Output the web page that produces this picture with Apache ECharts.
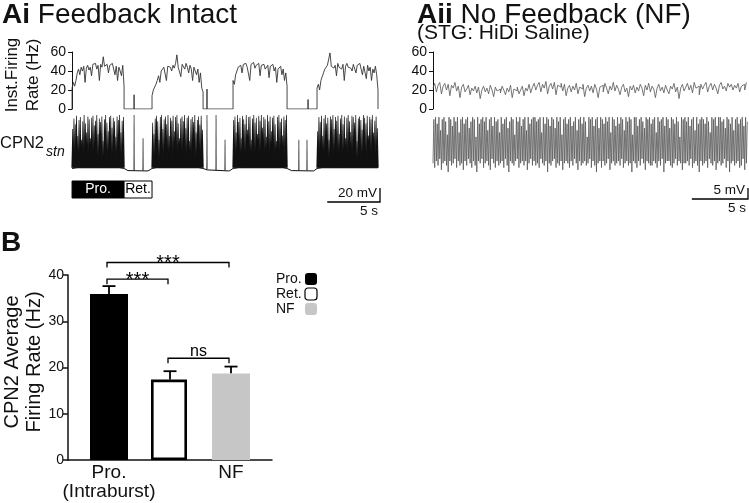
<!DOCTYPE html>
<html><head><meta charset="utf-8">
<script src="https://cdn.jsdelivr.net/npm/echarts@6/dist/echarts.min.js"></script>
<style>html,body{margin:0;padding:0;background:#fff}#c{width:749px;height:503px}</style>
</head><body><div id="c"></div>
<script>
const FONT = '"Liberation Sans", Arial, Helvetica, sans-serif';

// ---------- Ai : feedback intact ----------
const rateTicks = [0, 20, 40, 60];                 // Hz
const burstStartAi = [0, 7.58, 15.26, 23.22];      // s
const burstEndAi = [4.93, 12.42, 20.38, 29.0];     // s
const rateAiB1 = [22,28,24,30,38,42,36,44,40,45,28,43,46,41,44,35,47,45,48,42,46,30,47,44,55,45,43,47,38,46,44,48,42,36,45,30,44,40,35,46,24];
const rateAiB2 = [14,20,18,26,30,35,28,40,38,44,42,30,45,47,44,40,46,43,48,57,44,46,34,47,45,42,48,44,38,46,42,30,44,40,36,42,28,38,22,18];
const rateAiB3 = [30,26,36,40,44,42,46,38,47,45,48,44,46,30,47,45,49,43,46,44,48,35,46,45,47,42,44,46,33,45,43,47,40,44,28,42,40,45,36,42,30,38,24];
const rateAiB4 = [22,26,20,30,34,38,42,40,46,44,59,45,47,43,46,35,48,44,46,42,47,30,45,48,44,46,43,40,47,45,38,46,44,48,42,36,45,43,32,46,40,44,30,42,38,45,36,20];
const rateBlipsAi = [[5.88, 15], [12.79, 21], [22.37, 10]];   // [s, Hz]

// membrane potential (mV)
const burstBaseAi = -60;
const peakAiB1 = [-5,10,2,14,-15,8,12,-20,6,15,3,-10,13,9,-18,11,14,0,7,15,-12,10,5,13,-22,9,15,4,-8,12,14,-3,11,6,-16,13,8,15,-10,7,12];
const peakAiB2 = [4,-12,10,14,6,-20,12,15,-5,9,13,2,15,-15,11,7,14,-8,12,15,3,-18,10,13,6,15,-4,11,14,-22,9,12,5,15,-10,8,13,1,14,-6];
const peakAiB3 = [8,13,-10,15,5,11,-18,14,9,2,15,-6,12,13,-20,10,15,4,11,-12,14,7,15,-3,12,9,-16,15,6,13,-8,11,14,2,-22,12,15,5,10,-14,13,8,15];
const peakAiB4 = [-8,12,5,14,-15,10,15,3,11,-20,13,9,15,-5,12,7,14,-12,10,15,2,13,-18,11,15,6,-9,14,12,4,15,-22,10,13,8,-6,15,11,3,14,-14,12,9,15,-10,7,13,-4];
const spikesAiInter = [[5.88, -64, 15], [6.73, -64, -18], [12.79, -62, 15], [13.65, -64, 15], [14.5, -64, -20], [21.5, -64, -20], [22.27, -64, -20]];
const baselineAi = [[0,-61],[0.5,-60],[4.5,-60],[4.93,-61],[5.3,-64],[7.2,-64.5],[7.58,-61],[8,-60],[12,-60],[12.42,-61],[12.8,-63],[14.9,-64.5],[15.26,-61],[15.8,-60],[20,-60],[20.38,-61],[20.8,-64],[22.9,-64.5],[23.22,-61],[23.7,-60],[29,-60]];
const phaseNames = ['Pro.', 'Ret.'];
const scaleAi = [5, 20];   // s, mV

// ---------- Aii : no feedback ----------
const dtAii = 0.15;  // s
const rateAii = [22,27,18,25,28,16,24,27,20,26,14,25,22,28,19,24,12,23,26,18,21,25,15,22,19,24,17,23,11,20,24,18,22,16,25,20,13,23,19,21,17,24,20,15,22,18,25,12,21,19,23,16,20,24,14,22,19,26,17,23,27,20,25,28,18,26,22,29,16,24,27,21,28,15,25,23,27,19,26,14,22,25,18,24,20,27,16,23,21,26,13,22,25,19,24,17,26,21,12,23,25,18,27,22,16,24,20,28,19,25,21,15,23,26,18,22,13,24,20,25,17,23,19,26,22,14,25,20,27,18,24,21,12,22,26,19,23,17,25,20,16,24,21,27,18,23,11,22,26,19,23,27,20,25,17,28,22,24,15,26,21,25,28,18,24,27,20,26,22,16,25,28,21,24,19,27,23,26,20,25,22,27,18,24,26,20,28];
const peakAii = [-36,-35,-38,-35,-41,-36,-35,-37,-43,-35,-36,-39,-35,-37,-35,-42,-36,-35,-38,-36,-35,-40,-37,-35,-36,-44,-35,-38,-36,-35,-37,-35,-41,-36,-35,-39,-35,-37,-36,-42,-35,-38,-36,-35,-40,-37,-35,-36,-43,-35,-37,-35,-39,-36,-35,-41,-35,-38,-36,-35,-35,-37,-36,-35,-42,-35,-38,-35,-36,-39,-35,-36,-40,-35,-37,-35,-43,-36,-35,-38,-36,-35,-39,-37,-35,-41,-36,-35,-38,-35,-37,-44,-35,-36,-35,-39,-36,-35,-40,-35,-36,-38,-35,-37,-35,-42,-35,-36,-39,-35,-38,-35,-36,-41,-35,-37,-35,-36,-43,-35,-35,-39,-36,-35,-37,-40,-35,-36,-35,-38,-36,-35,-42,-35,-37,-36,-35,-39,-35,-36,-40,-35,-36,-38,-35,-37,-44,-35,-36,-35,-37,-35,-39,-36,-35,-41,-35,-38,-36,-35,-36,-38,-35,-37,-42,-35,-36,-35,-39,-35,-35,-37,-36,-40,-35,-36,-38,-35,-41,-36,-35,-38,-36,-35,-39,-35,-37];
const troughAii = [-56,-58,-55,-57,-54,-59,-56,-55,-57,-60,-55,-57,-56,-54,-58,-55,-57,-56,-59,-55,-57,-54,-56,-58,-55,-57,-60,-55,-56,-54,-58,-56,-55,-57,-59,-54,-56,-58,-55,-57,-56,-55,-58,-54,-57,-60,-55,-56,-57,-55,-54,-58,-56,-55,-57,-55,-59,-56,-54,-57,-55,-57,-56,-58,-54,-56,-57,-55,-60,-56,-57,-55,-54,-58,-56,-57,-55,-59,-56,-55,-56,-58,-55,-57,-54,-56,-59,-55,-57,-56,-55,-57,-56,-54,-58,-55,-57,-60,-56,-55,-58,-55,-57,-56,-54,-59,-56,-55,-57,-56,-55,-57,-54,-58,-56,-55,-57,-56,-60,-55,-56,-58,-55,-57,-54,-56,-59,-55,-56,-57,-57,-55,-56,-58,-55,-57,-54,-60,-56,-55,-55,-57,-58,-56,-54,-57,-55,-56,-59,-56,-56,-55,-57,-54,-58,-56,-55,-57,-60,-55,-57,-56,-55,-58,-54,-56,-57,-55,-59,-56,-55,-57,-56,-54,-58,-55,-60,-56,-55,-57,-56,-55,-58,-57,-54,-59,-56];
const scaleAii = [5, 5];  // s, mV

// ---------- B : average firing rate ----------
const groups = ['Pro.', 'Ret.', 'NF'];
const groupLabels = ['Pro.\n(Intraburst)', 'Ret.', 'NF'];
const meanRate = [35.9, 17.4, 18.7];     // Hz
const semRate = [1.7, 1.8, 1.5];         // Hz
const yTicksB = [0, 10, 20, 30, 40];
const sigPairs = [[0, 2], [0, 1], [1, 2]];
const sigLevels = [42.7, 39.1, 22.0];    // Hz
const sigLabels = ['***', '***', 'ns'];

// ---------- build series data ----------
const burstsRate = [rateAiB1, rateAiB2, rateAiB3, rateAiB4];
const burstsPeak = [peakAiB1, peakAiB2, peakAiB3, peakAiB4];
const ratePtsAi = [];
burstsRate.forEach((vals, k) => {
  const s = burstStartAi[k], e = burstEndAi[k], dt = (e - s) / (vals.length - 1);
  ratePtsAi.push([s, 0]);
  vals.forEach((v, i) => ratePtsAi.push([s + i * dt, v]));
  ratePtsAi.push([e, 0]);
  rateBlipsAi.filter(b => b[0] > e && (k + 1 >= burstStartAi.length || b[0] < burstStartAi[k + 1]))
    .forEach(b => { ratePtsAi.push([b[0], 0], [b[0], b[1]], [b[0], 0]); });
});
const spikePtsAi = [];
burstsPeak.forEach((vals, k) => {
  const s = burstStartAi[k], e = burstEndAi[k], dt = (e - s) / vals.length;
  vals.forEach((p, i) => spikePtsAi.push([s + (i + 0.5) * dt, burstBaseAi, p]));
});
const interSpikes = spikesAiInter.slice();

const ratePtsAii = rateAii.map((v, i) => [i * dtAii, v]);
const voltPtsAii = [];
peakAii.forEach((p, i) => { voltPtsAii.push([i * dtAii, troughAii[i]], [(i + 0.5) * dtAii, p]); });

const phaseData = [[burstStartAi[0], burstEndAi[0]], [burstEndAi[0], burstStartAi[1]]];

// ---------- chart ----------
const chart = echarts.init(document.getElementById('c'), null, {renderer: 'canvas'});
const hidden = {show: false};
const rateY = (gi) => ({
  gridIndex: gi, type: 'value', min: 0, max: 60, interval: 20,
  axisLine: {show: true, lineStyle: {color: '#111', width: 1}},
  axisTick: {show: true, length: 4, lineStyle: {color: '#111'}},
  axisLabel: {fontSize: 14, color: '#111', margin: 5, fontFamily: FONT},
  splitLine: hidden
});
const hidX = (gi, min, max) => ({gridIndex: gi, type: 'value', min, max, show: false});
const hidY = (gi, min, max) => ({gridIndex: gi, type: 'value', min, max, show: false});

const spikeRender = (baseW, tipW, color) => (params, api) => {
  const a = api.coord([api.value(0), api.value(1)]);
  const b = api.coord([api.value(0), api.value(2)]);
  return {type: 'polygon', shape: {points: [[a[0] - baseW / 2, a[1]], [b[0] - tipW / 2, b[1]], [b[0] + tipW / 2, b[1]], [a[0] + baseW / 2, a[1]]]},
    style: {fill: color}};
};

const option = {
  animation: false,
  textStyle: {fontFamily: FONT},
  grid: [
    {left: 71, top: 52, width: 307, height: 57},
    {left: 71, top: 115, width: 307, height: 57},
    {left: 71, top: 181, width: 307, height: 17},
    {left: 432, top: 52, width: 316, height: 57},
    {left: 432, top: 115, width: 316, height: 57},
    {left: 78.5, top: 275, width: 183, height: 185},
    {left: 68, top: 275, width: 204, height: 185}
  ],
  xAxis: [
    hidX(0, -0.1, 29), hidX(1, -0.1, 29), hidX(2, -0.1, 29),
    hidX(3, -0.09, 28.04), hidX(4, -0.09, 28.04),
    {gridIndex: 5, type: 'category', data: groupLabels,
      axisLine: hidden, axisTick: hidden,
      axisLabel: {fontSize: 19, color: '#111', margin: 3, lineHeight: 19, fontFamily: FONT}},
    {gridIndex: 6, type: 'value', min: -0.672, max: 2.672,
      axisLine: {show: true, lineStyle: {color: '#111', width: 1.5}},
      axisTick: hidden, axisLabel: hidden, splitLine: hidden}
  ],
  yAxis: [
    rateY(0), hidY(1, -66, 15), hidY(2, 0, 1), rateY(3), hidY(4, -60, -34),
    {gridIndex: 5, type: 'value', min: 0, max: 40, interval: 10, offset: 10.5,
      axisLine: {show: true, lineStyle: {color: '#111', width: 1.5}},
      axisTick: {show: true, length: 5, lineStyle: {color: '#111', width: 1.5}},
      axisLabel: {fontSize: 14, color: '#111', margin: 4, fontFamily: FONT},
      splitLine: hidden},
    hidY(6, 0, 40)
  ],
  legend: {
    orient: 'vertical', left: 271, top: 267, align: 'right',
    itemWidth: 12, itemHeight: 12, itemGap: 1,
    formatter: (name) => '{a|' + name + '}',
    textStyle: {fontSize: 14, color: '#111', lineHeight: 14, fontFamily: FONT,
      rich: {a: {width: 24, align: 'left', fontSize: 14, lineHeight: 14, fontFamily: FONT, color: '#111'}}},
    data: [{name: 'Pro.'}, {name: 'Ret.', itemStyle: {borderWidth: 1.2}}, {name: 'NF'}],
    selectedMode: false
  },
  series: [
    {type: 'line', xAxisIndex: 0, yAxisIndex: 0, data: ratePtsAi, symbol: 'none',
      lineStyle: {color: '#333', width: 0.9}, silent: true},
    {type: 'line', xAxisIndex: 1, yAxisIndex: 1, data: baselineAi, symbol: 'none',
      lineStyle: {color: '#111', width: 1}, silent: true},
    {type: 'custom', xAxisIndex: 1, yAxisIndex: 1, data: spikePtsAi, silent: true,
      encode: {x: 0, y: [1, 2]}, renderItem: spikeRender(2.6, 0.7, '#111')},
    {type: 'custom', xAxisIndex: 1, yAxisIndex: 1, data: interSpikes, silent: true,
      encode: {x: 0, y: [1, 2]}, renderItem: spikeRender(1.2, 0.8, '#333')},
    {type: 'custom', xAxisIndex: 2, yAxisIndex: 2, data: phaseData, silent: true,
      encode: {x: [0, 1]},
      renderItem: (params, api) => {
        const a = api.coord([api.value(0), 1]);
        const b = api.coord([api.value(1), 0]);
        const dark = params.dataIndex === 0;
        return {type: 'group', children: [
          {type: 'rect', shape: {x: a[0], y: a[1], width: b[0] - a[0], height: b[1] - a[1]},
            style: {fill: dark ? '#000' : '#fff', stroke: '#000', lineWidth: 1}},
          {type: 'text', x: (a[0] + b[0]) / 2, y: (a[1] + b[1]) / 2,
            style: {text: phaseNames[params.dataIndex], fill: dark ? '#fff' : '#000',
              font: '14px ' + FONT, align: 'center', verticalAlign: 'middle'}}
        ]};
      }},
    {type: 'line', xAxisIndex: 3, yAxisIndex: 3, data: ratePtsAii, symbol: 'none', step: 'end',
      lineStyle: {color: '#555', width: 0.8}, silent: true},
    {type: 'line', xAxisIndex: 4, yAxisIndex: 4, data: voltPtsAii, symbol: 'none',
      lineStyle: {color: '#5a5a5a', width: 0.8}, silent: true},
    {name: 'Pro.', type: 'bar', xAxisIndex: 5, yAxisIndex: 5, barWidth: 38, barGap: '-100%',
      data: [meanRate[0], '-', '-'], itemStyle: {color: '#000'}},
    {name: 'Ret.', type: 'bar', xAxisIndex: 5, yAxisIndex: 5, barWidth: 36, barGap: '-100%',
      data: ['-', meanRate[1], '-'], itemStyle: {color: '#fff', borderColor: '#000', borderWidth: 2.6}},
    {name: 'NF', type: 'bar', xAxisIndex: 5, yAxisIndex: 5, barWidth: 38, barGap: '-100%',
      data: ['-', '-', meanRate[2]], itemStyle: {color: '#c6c6c6'}},
    {type: 'custom', xAxisIndex: 5, yAxisIndex: 5, silent: true,
      data: meanRate.map((m, i) => [i, m, m + semRate[i]]),
      encode: {x: 0, y: [1, 2]},
      renderItem: (params, api) => {
        const a = api.coord([api.value(0), api.value(1)]);
        const b = api.coord([api.value(0), api.value(2)]);
        const st = {stroke: '#000', lineWidth: 1.8};
        return {type: 'group', children: [
          {type: 'line', shape: {x1: a[0], y1: a[1], x2: b[0], y2: b[1]}, style: st},
          {type: 'line', shape: {x1: b[0] - 6.5, y1: b[1], x2: b[0] + 6.5, y2: b[1]}, style: st}
        ]};
      }},
    {type: 'custom', xAxisIndex: 6, yAxisIndex: 6, silent: true,
      data: sigPairs.map((p, i) => [p[0], p[1], sigLevels[i]]),
      encode: {x: [0, 1], y: 2},
      renderItem: (params, api) => {
        const a = api.coord([api.value(0), api.value(2)]);
        const b = api.coord([api.value(1), api.value(2)]);
        const lab = sigLabels[params.dataIndex];
        const drop = 5;
        const isNs = lab === 'ns';
        return {type: 'group', children: [
          {type: 'polyline', shape: {points: [[a[0] - 2, a[1] + drop], [a[0] - 2, a[1]], [b[0] - 2, b[1]], [b[0] - 2, b[1] + drop]]},
            style: {stroke: '#000', lineWidth: 1.3, fill: null}},
          {type: 'text', x: (a[0] + b[0]) / 2 - 2, y: a[1] + (isNs ? -7 : 1),
            style: {text: lab, fill: '#000', font: (isNs ? '16px ' : '20px ') + FONT,
              align: 'center', verticalAlign: 'middle'}}
        ]};
      }}
  ]
};
chart.setOption(option);

// ---------- texts & scale bars ----------
function scaleBar(xi, yi, sec, mv, right, bottom, mvText, sText) {
  const w = chart.convertToPixel({xAxisIndex: xi}, sec) - chart.convertToPixel({xAxisIndex: xi}, 0);
  const h = chart.convertToPixel({yAxisIndex: yi}, 0) - chart.convertToPixel({yAxisIndex: yi}, mv);
  return [
    {type: 'polyline', shape: {points: [[right - w, bottom], [right, bottom], [right, bottom - h]]},
      style: {stroke: '#000', lineWidth: 1.3, fill: null}},
    {type: 'text', x: right - 3, y: bottom - 2, style: {text: mvText, font: '13.5px ' + FONT, fill: '#111', align: 'right', verticalAlign: 'bottom'}},
    {type: 'text', x: right - 2, y: bottom + 2, style: {text: sText, font: '13.5px ' + FONT, fill: '#111', align: 'right', verticalAlign: 'top'}}
  ];
}
const T = (x, y, text, font) => ({type: 'text', x, y,
  style: {text, font: font + ' ' + FONT, fill: '#111', align: 'left', verticalAlign: 'middle'}});
const graphics = [
  {type: 'text', x: 2, y: 15, style: {text: '{b|Ai} Feedback Intact', fill: '#111', verticalAlign: 'middle',
    font: '28px ' + FONT, rich: {b: {fontWeight: 'bold', fontSize: 28, fontFamily: FONT}}}},
  {type: 'text', x: 417, y: 15, style: {text: '{b|Aii} No Feedback (NF)', fill: '#111', verticalAlign: 'middle',
    font: '28px ' + FONT, rich: {b: {fontWeight: 'bold', fontSize: 28, fontFamily: FONT}}}},
  T(417, 33, '(STG: HiDi Saline)', '21px'),
  T(1, 243, 'B', 'bold 28px'),
  {type: 'text', x: 22.5, y: 75, rotation: Math.PI / 2,
    style: {text: 'Inst.Firing\nRate (Hz)', font: '17px ' + FONT, fill: '#111', align: 'center', verticalAlign: 'middle', lineHeight: 21}},
  {type: 'text', x: 23, y: 362, rotation: Math.PI / 2,
    style: {text: 'CPN2 Average\nFiring Rate (Hz)', font: '20px ' + FONT, fill: '#111', align: 'center', verticalAlign: 'middle', lineHeight: 22}},
  T(0, 143, 'CPN2', '16.5px'),
  T(46, 152, 'stn', 'italic 14px'),
  ...scaleBar(1, 1, scaleAi[0], scaleAi[1], 380, 202, scaleAi[1] + ' mV', scaleAi[0] + ' s'),
  ...scaleBar(4, 4, scaleAii[0], scaleAii[1], 748, 199, scaleAii[1] + ' mV', scaleAii[0] + ' s')
];
chart.setOption({graphic: graphics});
</script></body></html>
